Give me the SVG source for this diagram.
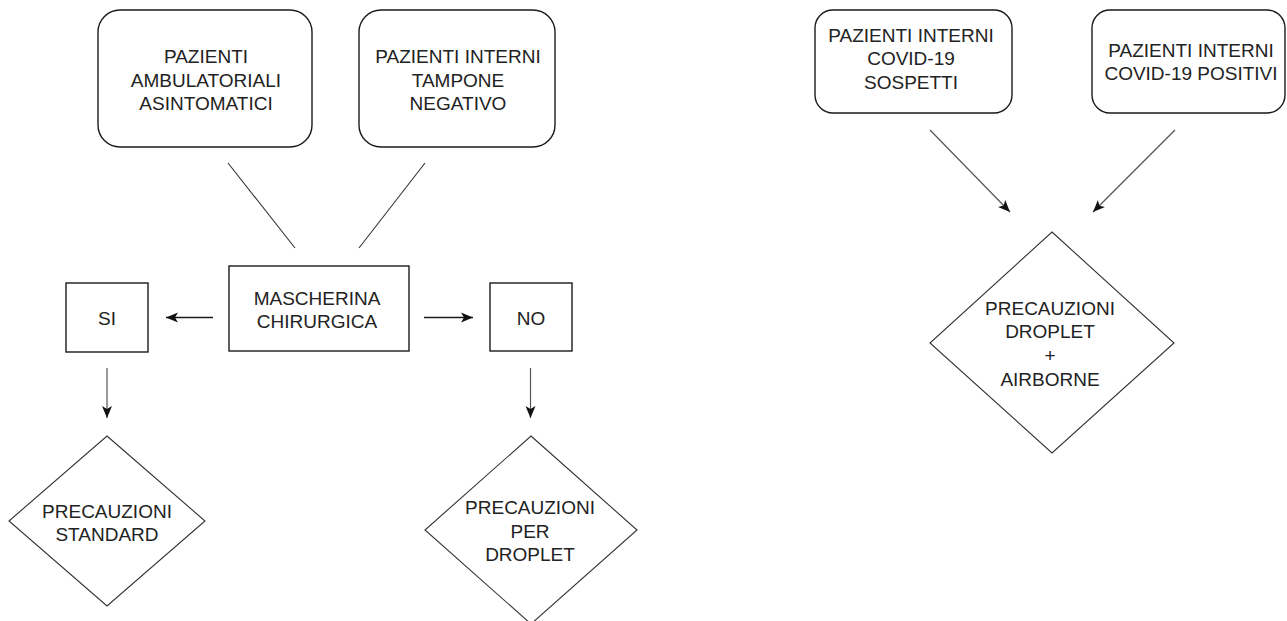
<svg xmlns="http://www.w3.org/2000/svg" width="1287" height="621" viewBox="0 0 1287 621">
<style>
.box{fill:#fff;stroke:#1a1a1a;stroke-width:1.4}
.dia{fill:#fff;stroke:#333;stroke-width:1.1}
.t{font-family:"Liberation Sans",Arial,Helvetica,sans-serif;font-size:19px;fill:#222;text-anchor:middle}
.ln{stroke:#333;stroke-width:1.1;fill:none}
.ar{stroke:#1a1a1a;stroke-width:1.4;fill:none;marker-end:url(#ah)}
.ard{stroke:#555;stroke-width:1.2;fill:none;marker-end:url(#ah)}
</style>
<defs>
<marker id="ah" markerUnits="userSpaceOnUse" markerWidth="13" markerHeight="11" refX="12" refY="5.5" orient="auto">
<path d="M0,0.5 L12,5.5 L0,10.5 L3,5.5 z" fill="#111"/>
</marker>
</defs>
<rect width="1287" height="621" fill="#fff"/>

<g id="n-ambulatoriali">
<rect class="box" x="98" y="10" width="214" height="137" rx="22"/>
<text class="t" x="206" y="63">PAZIENTI</text>
<text class="t" x="206" y="86.5">AMBULATORIALI</text>
<text class="t" x="206" y="110">ASINTOMATICI</text>
</g>
<g id="n-tampone">
<rect class="box" x="359" y="10" width="196" height="137" rx="22"/>
<text class="t" x="458" y="63">PAZIENTI INTERNI</text>
<text class="t" x="458" y="86.5">TAMPONE</text>
<text class="t" x="458" y="110">NEGATIVO</text>
</g>
<g id="n-mascherina">
<rect class="box" x="229" y="266" width="180" height="85"/>
<text class="t" x="317" y="305">MASCHERINA</text>
<text class="t" x="317" y="328">CHIRURGICA</text>
</g>
<g id="n-si">
<rect class="box" x="66" y="283" width="82" height="69"/>
<text class="t" x="107" y="325">SI</text>
</g>
<g id="n-no">
<rect class="box" x="490" y="283" width="82" height="68"/>
<text class="t" x="531" y="325">NO</text>
</g>
<g id="n-standard">
<polygon class="dia" points="107,436 205,521 107,606 9,521"/>
<text class="t" x="107" y="517.5">PRECAUZIONI</text>
<text class="t" x="107" y="541">STANDARD</text>
</g>
<g id="n-droplet">
<polygon class="dia" points="531,436 637,530 531,624 425,530"/>
<text class="t" x="530" y="514">PRECAUZIONI</text>
<text class="t" x="530" y="537.5">PER</text>
<text class="t" x="530" y="561">DROPLET</text>
</g>
<g id="n-sospetti">
<rect class="box" x="815" y="10" width="197" height="103" rx="18"/>
<text class="t" x="911" y="42">PAZIENTI INTERNI</text>
<text class="t" x="911" y="65">COVID-19</text>
<text class="t" x="911" y="88.5">SOSPETTI</text>
</g>
<g id="n-positivi">
<rect class="box" x="1092" y="10" width="193" height="103" rx="18"/>
<text class="t" x="1191" y="57">PAZIENTI INTERNI</text>
<text class="t" x="1191" y="79.5">COVID-19 POSITIVI</text>
</g>
<g id="n-airborne">
<polygon class="dia" points="1052,232 1174,343 1052,453 930,343"/>
<text class="t" x="1050" y="315">PRECAUZIONI</text>
<text class="t" x="1050" y="338">DROPLET</text>
<text class="t" x="1050" y="362">+</text>
<text class="t" x="1050" y="385.5">AIRBORNE</text>
</g>

<g id="connectors">
<line class="ln" x1="228" y1="163" x2="295" y2="248"/>
<line class="ln" x1="425" y1="163" x2="359" y2="248"/>
<line class="ar" x1="213" y1="317.5" x2="166" y2="317.5"/>
<line class="ar" x1="424" y1="317.5" x2="473" y2="317.5"/>
<line class="ard" x1="107" y1="368" x2="107" y2="418"/>
<line class="ard" x1="530.5" y1="368" x2="530.5" y2="418"/>
<line class="ard" x1="930" y1="130" x2="1010" y2="212"/>
<line class="ard" x1="1175" y1="130" x2="1093" y2="212"/>
</g>
</svg>
